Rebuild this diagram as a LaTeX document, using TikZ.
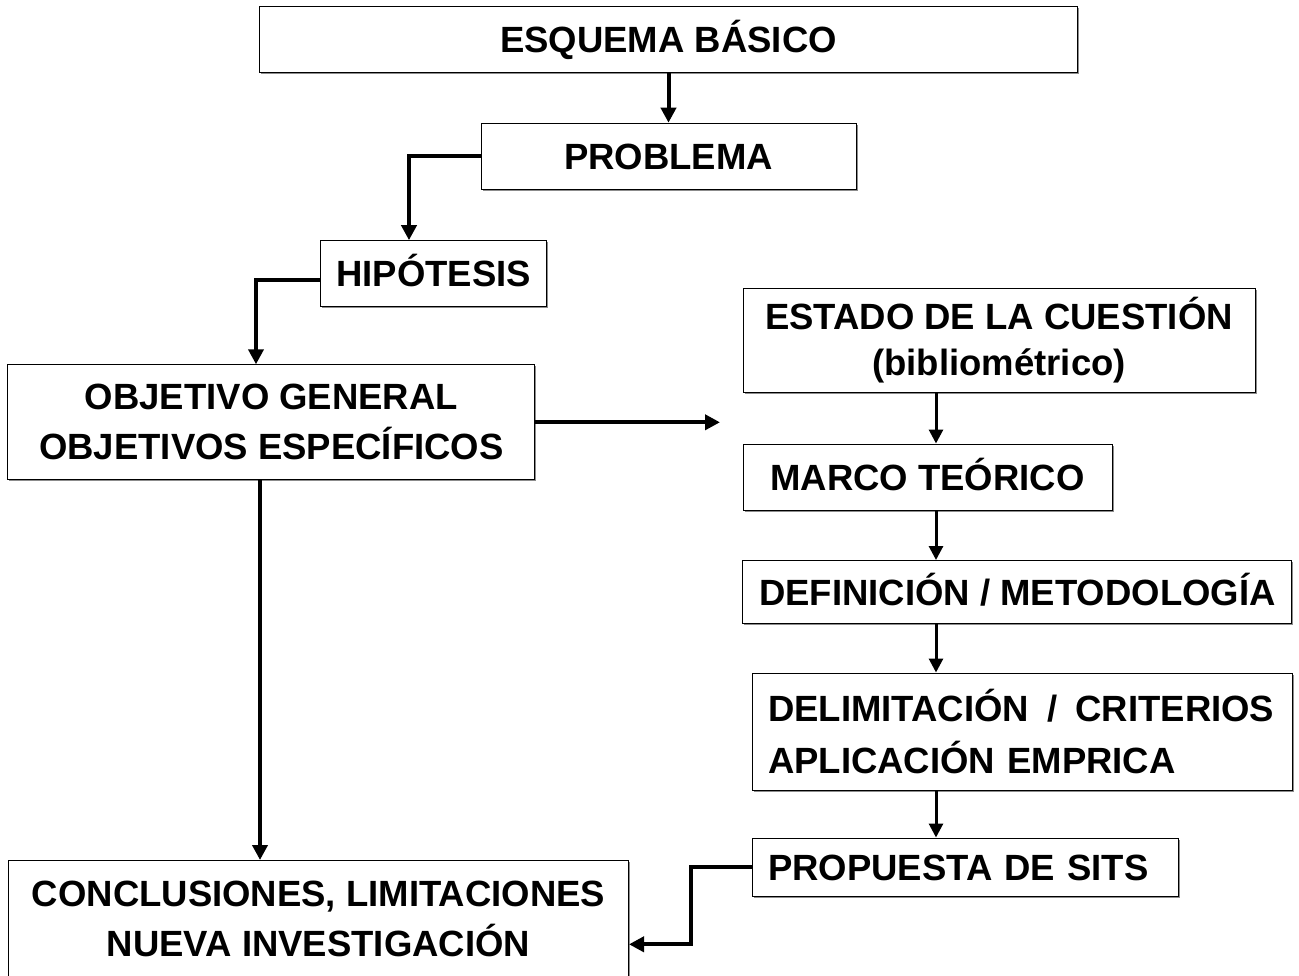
\documentclass[tikz,border=0pt]{standalone}
\usepackage{fontspec}
\setmainfont{Liberation Sans}
\usetikzlibrary{arrows.meta,shadows}

\tikzset{
  box/.style={draw=black, line width=1pt, fill=white, inner sep=0pt, align=center,
    font=\fontsize{36.5}{50}\selectfont\bfseries,
    drop shadow={shadow xshift=1.5pt, shadow yshift=-1.5pt, fill=black!45, opacity=1}},
  oneline/.style={text height=26pt, text depth=0pt},
  thickarr/.style={line width=4pt, -{Triangle[length=15pt,width=15pt]}},
  arr/.style={line width=3pt, -{Triangle[length=14pt,width=14pt]}}
}

\begin{document}
\begin{tikzpicture}[x=1pt,y=-1pt]
    \useasboundingbox (0,0) rectangle (1299,976);

    \coordinate (lx) at (260, 0);
    \coordinate (rx) at (936, 0);
    \coordinate (tip) at (720, 422.3);
    \coordinate (bend) at (691, 944.3);

%left column
    \node[box, oneline, minimum width=818, minimum height=66] (esq) at (668.5, 39.2) {ESQUEMA BÁSICO};
    \node[box, oneline, minimum width=375, minimum height=66] (prob) at (668.5, 156.2) {PROBLEMA};
    \node[box, oneline, minimum width=226, minimum height=66] (hip) at (433.7, 273.7) {HIPÓTESIS};
    \node[box, minimum width=527, minimum height=115] (obj) at (271.4, 422.3) {OBJETIVO GENERAL\\OBJETIVOS ESPECÍFICOS};
    \node[box, minimum width=620, minimum height=116] (concl) at (318.5, 918.5) {CONCLUSIONES, LIMITACIONES\\NUEVA INVESTIGACIÓN};

%right column
    \node[box, font=\fontsize{36.5}{46}\selectfont\bfseries, minimum width=512, minimum height=103] (est) at (999, 340.5) {ESTADO DE LA CUESTIÓN\\(bibliométrico)};
    \node[box, oneline, minimum width=369, minimum height=66] (marco) at (927.5, 477) {MARCO TEÓRICO};
    \node[box, oneline, minimum width=549, minimum height=63] (defin) at (1017.4, 592) {DEFINICIÓN / METODOLOGÍA};
    \node[box, font=\fontsize{36.5}{52}\selectfont\bfseries, minimum height=117, text width=508, inner xsep=16pt, align=left] (delim) at (1022, 731.5) {DELIMITACIÓN \,/\, CRITERIOS\\APLICACIÓN EMPRICA};
    \node[box, oneline, minimum height=58, text width=394, inner xsep=16pt, align=left] (prop) at (965, 867) {PROPUESTA DE SITS};

%arrows
    \draw[thickarr] (esq) -- (prob);
    \draw[thickarr] (prob.west) -| ([xshift=-24.7pt]hip.north);
    \draw[thickarr] ([yshift=-6.3pt]hip.west) -| ([xshift=-15.4pt]obj.north);
    \draw[thickarr] (obj.east) -- (tip);
    \draw[thickarr] (obj.south -| lx) -- (concl.north -| lx);
    \draw[arr] (est.south -| rx) -- (marco.north -| rx);
    \draw[arr] (marco.south -| rx) -- (defin.north -| rx);
    \draw[arr] (defin.south -| rx) -- (delim.north -| rx);
    \draw[arr] (delim.south -| rx) -- (prop.north -| rx);
    \draw[thickarr] (prop.west) -| (bend) -- (concl.east |- bend);

\end{tikzpicture}
\end{document}
